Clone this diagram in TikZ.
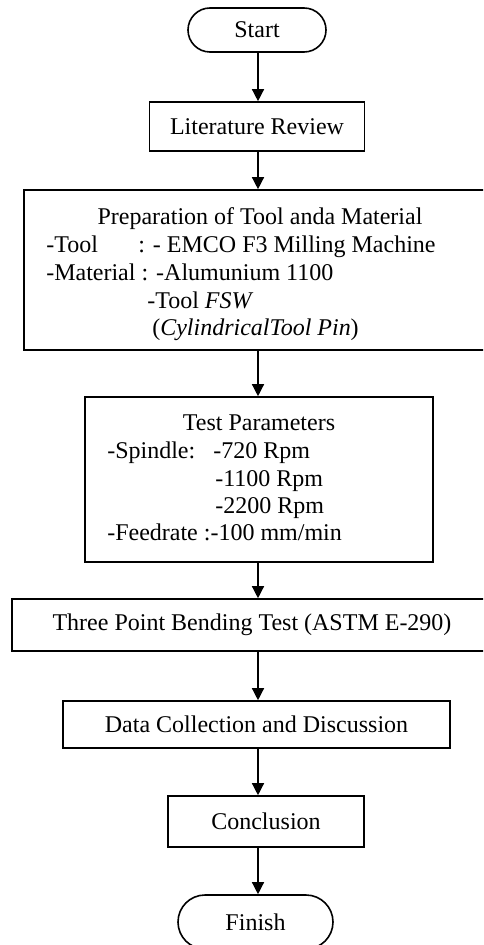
\documentclass[tikz,border=0pt]{standalone}
\usepackage{fontspec}
\setmainfont{Liberation Serif}
\usetikzlibrary{arrows.meta,shapes.misc}
\begin{document}
\begin{tikzpicture}[x=0.75pt,y=-0.75pt,
  txt/.style={inner sep=0pt,font=\fontsize{18pt}{21pt}\selectfont},
  box/.style={draw,line width=1.2pt,rectangle,inner sep=0pt,font=\fontsize{18pt}{21pt}\selectfont},
  term/.style={draw,line width=1.2pt,rounded rectangle,inner sep=0pt,font=\fontsize{18pt}{21pt}\selectfont},
  flow/.style={line width=1pt,-{Triangle[width=9pt,length=9pt]}}]
\useasboundingbox (0,0) rectangle (483,945);
\clip (0,0) rectangle (483,945);
\coordinate (ax) at (258,0);
\node[term, minimum width=138*0.75pt, minimum height=44*0.75pt] (start) at (257,30) {Start};
\node[box, minimum width=215*0.75pt, minimum height=49*0.75pt] (lit) at (257,126.5) {Literature Review};
\node[box, minimum width=468*0.75pt, minimum height=160*0.75pt] (prep) at (258,270) {};
\node[box, minimum width=348*0.75pt, minimum height=165*0.75pt] (test) at (259,479.5) {};
\node[box, minimum width=492*0.75pt, minimum height=52*0.75pt] (bend) at (258,625) {};
\node[txt] (bendt) at (252,625) {Three Point Bending Test (ASTM E-290)};
\node[box, minimum width=387*0.75pt, minimum height=47*0.75pt] (data) at (256.5,724.5) {Data Collection and Discussion};
\node[box, minimum width=196*0.75pt, minimum height=51*0.75pt] (concl) at (266,821.5) {Conclusion};
\node[term, minimum width=155*0.75pt, minimum height=54*0.75pt] (finish) at (255.5,922) {Finish};
% prep text
\node[txt, anchor=base] (p1) at (260,224) {Preparation of Tool anda Material};
\node[txt, anchor=base west] (p2a) at (46,252) {-Tool};
\node[txt, anchor=base west] (p2b) at (138,252) {: - EMCO F3 Milling Machine};
\node[txt, anchor=base west] (p3) at (46,280) {-Material : -Alumunium 1100};
\node[txt, anchor=base west] (p4) at (147,308) {-Tool \textit{FSW}};
\node[txt, anchor=base west] (p5) at (152,335) {(\textit{CylindricalTool Pin})};
% test text
\node[txt, anchor=base] (t1) at (259,430) {Test Parameters};
\node[txt, anchor=base west] (t2a) at (107,458) {-Spindle:};
\node[txt, anchor=base west] (t2b) at (213,458) {-720 Rpm};
\node[txt, anchor=base west] (t3) at (215,486) {-1100 Rpm};
\node[txt, anchor=base west] (t4) at (215,513) {-2200 Rpm};
\node[txt, anchor=base west] (t5) at (107,540) {-Feedrate :-100 mm/min};
% arrows
\draw[flow] (start.south -| ax) -- (lit.north -| ax);
\draw[flow] (lit.south -| ax) -- (prep.north -| ax);
\draw[flow] (prep.south -| ax) -- (test.north -| ax);
\draw[flow] (test.south -| ax) -- (bend.north -| ax);
\draw[flow] (bend.south -| ax) -- (data.north -| ax);
\draw[flow] (data.south -| ax) -- (concl.north -| ax);
\draw[flow] (concl.south -| ax) -- (finish.north -| ax);
\end{tikzpicture}
\end{document}
